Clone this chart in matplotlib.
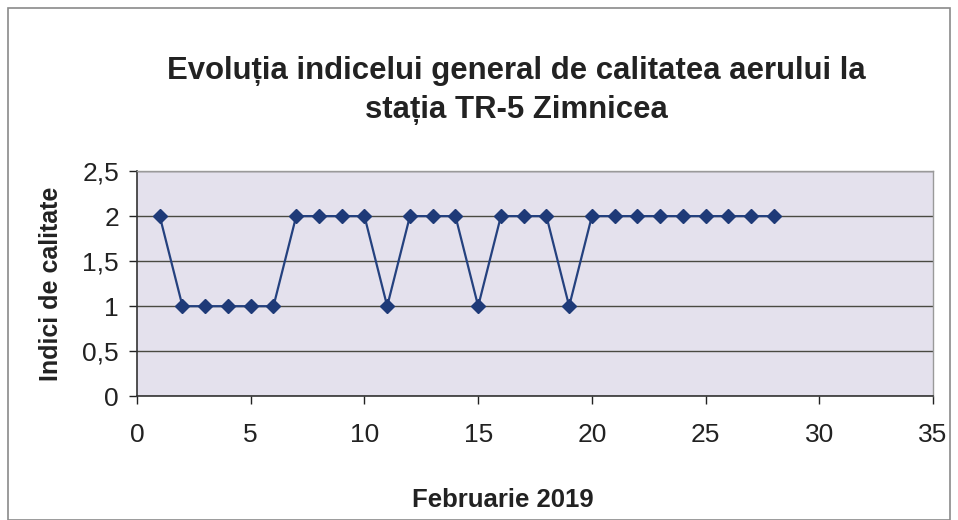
import matplotlib.pyplot as plt
import matplotlib.patches as mpatches
from matplotlib.ticker import FuncFormatter

# zilele lunii si indicele general de calitate
zile = list(range(1, 29))
indici = [2, 1, 1, 1, 1, 1, 2, 2, 2, 2, 1, 2, 2, 2, 1, 2, 2, 2, 1,
          2, 2, 2, 2, 2, 2, 2, 2, 2]

titlu = "Evoluția indicelui general de calitatea aerului la\nstația TR-5 Zimnicea"
eticheta_x = "Februarie 2019"
eticheta_y = "Indici de calitate"

plt.rcParams["font.family"] = ["Liberation Sans", "DejaVu Sans"]

fig = plt.figure(figsize=(9.58, 5.20), dpi=100)
ax = fig.add_axes([0.143, 0.238, 0.831, 0.433])

# chenarul exterior al graficului
fig.patches.append(mpatches.Rectangle((0.008, 0.0), 0.984, 0.985, transform=fig.transFigure,
                                      fill=False, edgecolor="#8a8a8a", linewidth=1.2))

ax.set_facecolor("#e4e1ed")
ax.plot(zile, indici, color="#24417f", linewidth=1.6, marker="D", markersize=7.5,
        markerfacecolor="#1e3a78", markeredgecolor="#1e3a78", zorder=3)

ax.set_xlim(0, 35)
ax.set_ylim(0, 2.5)
ax.set_xticks(range(0, 36, 5))
ax.set_yticks([0, 0.5, 1, 1.5, 2, 2.5])
ax.yaxis.set_major_formatter(FuncFormatter(lambda v, p: f"{v:g}".replace(".", ",")))
ax.grid(axis="y", color="#4a4a42", linewidth=1.0)
ax.set_axisbelow(True)

for s in ["top", "right"]:
    ax.spines[s].set_color("#9a9a9a")
    ax.spines[s].set_linewidth(1.0)
for s in ["left", "bottom"]:
    ax.spines[s].set_color("#333333")
    ax.spines[s].set_linewidth(1.2)

ax.tick_params(axis="both", labelsize=19, colors="#222222", length=6, width=1.0)
ax.tick_params(axis="x", pad=13)
ax.tick_params(axis="y", pad=7)

ax.set_xlabel(eticheta_x, fontsize=18.5, fontweight="bold", labelpad=30, color="#222222")
ax.xaxis.label.set_x(0.46)
ax.set_ylabel(eticheta_y, fontsize=18, fontweight="bold", labelpad=14, color="#222222")
fig.text(0.539, 0.826, titlu, ha="center", va="center", fontsize=22.4, fontweight="bold",
         color="#222222", linespacing=1.35)

fig.savefig("out.png", dpi=100)
